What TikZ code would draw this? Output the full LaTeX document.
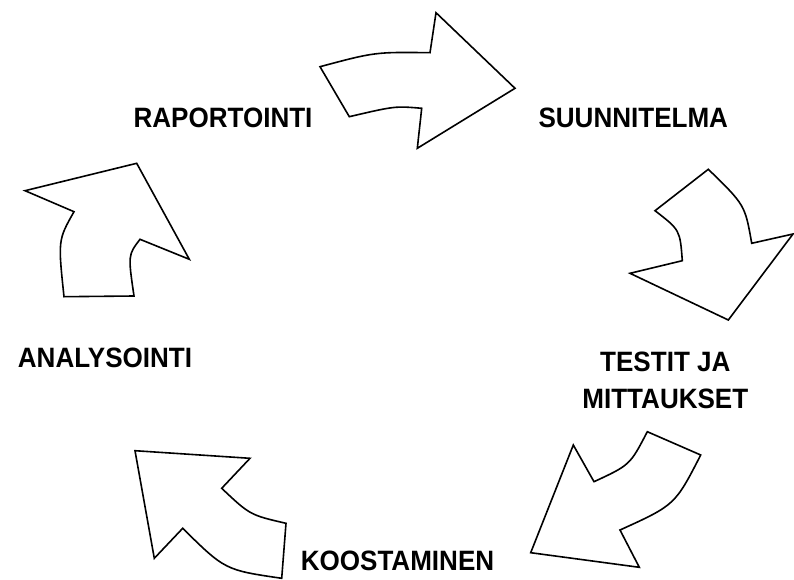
\documentclass[tikz,border=0pt]{standalone}
\usepackage{fontspec}
\setmainfont{Liberation Sans}[FakeStretch=0.93]
\begin{document}
\begin{tikzpicture}[x=1pt,y=-1pt,
  cyclearrow/.style={draw=black,fill=white,line width=1.6pt,line join=miter},
  label/.style={font=\fontsize{28}{36.5}\selectfont\bfseries,inner sep=0pt,anchor=base,align=center}]
\useasboundingbox (0,0) rectangle (794,580);
% arrow 1: RAPORTOINTI -> SUUNNITELMA
\draw[cyclearrow] (320,66.7) .. controls (375,52) .. (430,52.7) -- (436,12.7) -- (515,88.3)
  -- (417.3,148.3) -- (421.7,108.3) .. controls (395,106) .. (349.3,116.7) -- cycle;
% arrow 2: SUUNNITELMA -> TESTIT JA MITTAUKSET
\draw[cyclearrow] (655,210.7) -- (708.3,169.3) .. controls (745,205) .. (751.7,243.3)
  -- (793,234) -- (728.3,320) -- (630,273.3) -- (682.3,260.7) .. controls (680,230) .. cycle;
% arrow 3: TESTIT JA MITTAUKSET -> KOOSTAMINEN
\draw[cyclearrow] (647.3,431.7) -- (700.7,455) .. controls (675,505) .. (620,530)
  -- (639.3,567.3) -- (530.7,552.7) -- (573.3,445) -- (594,481.7) .. controls (630,465) .. cycle;
% arrow 4: KOOSTAMINEN -> ANALYSOINTI
\draw[cyclearrow] (135,450.7) -- (250,458.3) -- (221.7,488.3) .. controls (250,515) .. (286,523.3)
  -- (281.7,578.3) .. controls (225,570) .. (182.7,528.3) -- (154.3,558.3) -- cycle;
% arrow 5: ANALYSOINTI -> RAPORTOINTI
\draw[cyclearrow] (64,296.7) -- (134,296) .. controls (128,255) .. (140,239.3) -- (189.3,259.3)
  -- (136.7,163.3) -- (25,190.7) -- (74,211.7) .. controls (58,240) .. cycle;
% labels
\node[label] (rap) at (223,127.7) {RAPORTOINTI};
\node[label] (suu) at (633.3,127.7) {SUUNNITELMA};
\node[label] (tes) at (665.3,408.3) {TESTIT JA\\MITTAUKSET};
\node[label] (ana) at (105,367.7) {ANALYSOINTI};
\node[label] (koo) at (397.5,570) {KOOSTAMINEN};
\end{tikzpicture}
\end{document}
